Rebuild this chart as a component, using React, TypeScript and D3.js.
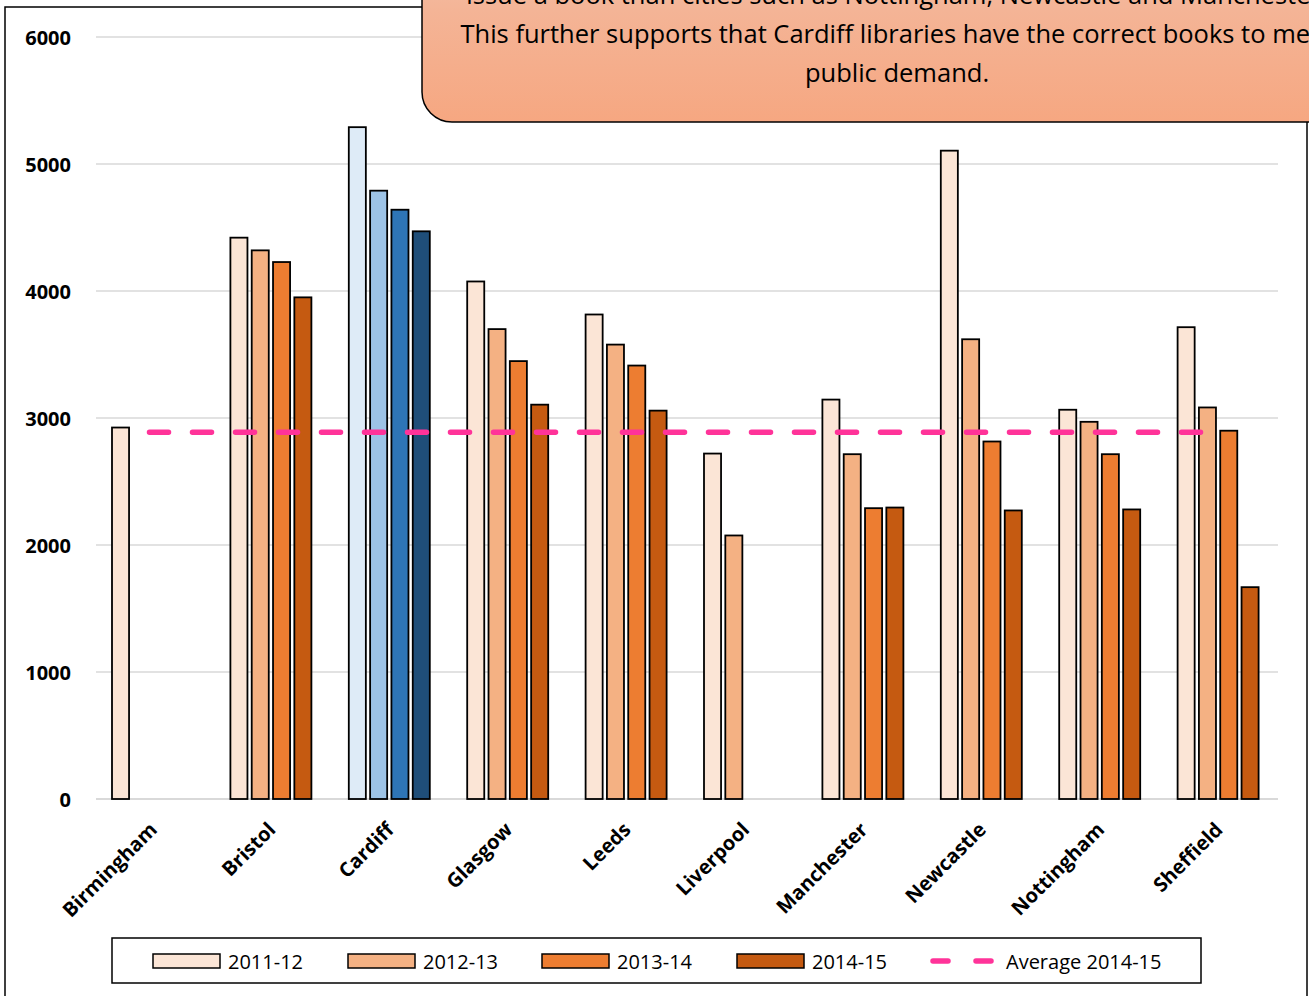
import React from "react";
import * as d3 from "d3";

const categories = ["Birmingham", "Bristol", "Cardiff", "Glasgow", "Leeds", "Liverpool", "Manchester", "Newcastle", "Nottingham", "Sheffield"];
const seriesNames = ["2011-12", "2012-13", "2013-14", "2014-15"];
const values2011: (number | null)[] = [2925, 4420, 5290, 4075, 3815, 2720, 3145, 5105, 3065, 3715];
const values2012: (number | null)[] = [null, 4320, 4790, 3700, 3578, 2075, 2715, 3620, 2970, 3083];
const values2013: (number | null)[] = [null, 4228, 4640, 3448, 3413, null, 2290, 2815, 2715, 2900];
const values2014: (number | null)[] = [null, 3950, 4470, 3105, 3058, null, 2295, 2272, 2280, 1668];
const average2014 = 2888;
const yTicks = [0, 1000, 2000, 3000, 4000, 5000, 6000];
const annotationLines = [
  "issue a book than cities such as Nottingham, Newcastle and Manchester.",
  "This further supports that Cardiff libraries have the correct books to meet",
  "public demand.",
];

const orangeColors = ["#fbe5d6", "#f4b183", "#ed7d31", "#c55a11"];
const blueColors = ["#deebf7", "#9dc3e6", "#2e75b6", "#1f4e79"];
const highlight = "Cardiff";

export default function App() {
  const W = 1309, H = 996;
  const plotLeft = 93.3, plotRight = 1277.3, yTop = 37, yBottom = 799;
  const x = d3.scaleBand<string>().domain(categories).range([plotLeft, plotRight]).padding(0);
  const groupW = 81;
  const xi = d3.scaleBand<string>().domain(seriesNames).range([0, groupW]).paddingInner(0.2);
  const y = d3.scaleLinear().domain([0, 6000]).range([yBottom, yTop]);
  const allSeries = [values2011, values2012, values2013, values2014];
  const off = (x.bandwidth() - groupW) / 2;
  const font = "'Open Sans', 'DejaVu Sans', sans-serif";

  const avgX1 = x(categories[0])! + x.bandwidth() / 2 - 3;
  const avgX2 = x(categories[categories.length - 1])! + x.bandwidth() / 2 + 2;

  const legendX = [153, 348, 542, 737];

  return (
    <svg width={W} height={H} style={{ position: "absolute", left: 0, top: 0 }} fontFamily={font}>
      <defs>
        <linearGradient id="annGrad" x1="0" y1="0" x2="0" y2="1">
          <stop offset="0%" stopColor="#f3c7b2" />
          <stop offset="45%" stopColor="#f4b496" />
          <stop offset="100%" stopColor="#f6a781" />
        </linearGradient>
      </defs>
      <rect x={0} y={0} width={W} height={H} fill="#fff" />
      <rect x={5} y={7} width={1302} height={1010} fill="#fff" stroke="#000" strokeWidth={1.5} />

      {yTicks.map((t) => (
        <g key={t}>
          <line x1={96} x2={1278} y1={y(t)} y2={y(t)} stroke="#d9d9d9" strokeWidth={t === 0 ? 2 : 1.5} />
          <text x={71} y={y(t)} textAnchor="end" dominantBaseline="central" fontSize={20} fontWeight="bold" fill="#000">
            {t}
          </text>
        </g>
      ))}

      {categories.map((c, ci) => (
        <g key={c}>
          {allSeries.map((s, si) => {
            const v = s[ci];
            if (v == null) return null;
            const bx = x(c)! + off + xi(seriesNames[si])!;
            const col = c === highlight ? blueColors[si] : orangeColors[si];
            return (
              <rect key={si} x={bx} y={y(v)} width={xi.bandwidth()} height={yBottom - y(v)} fill={col} stroke="#000" strokeWidth={1.8} />
            );
          })}
        </g>
      ))}

      <line x1={avgX1} x2={avgX2} y1={y(average2014)} y2={y(average2014)} stroke="#ff3399" strokeWidth={5.5} strokeDasharray="19,24" strokeLinecap="round" />

      {categories.map((c) => {
        const cx = x(c)! + x.bandwidth() / 2 + 1;
        return (
          <text key={c} transform={`translate(${cx},${826}) rotate(-45)`} textAnchor="end" dy="0.35em" fontSize={20} fontWeight="bold" fill="#000">
            {c}
          </text>
        );
      })}

      <path
        d={`M422,-80 L1400,-80 L1400,122 L452,122 A30,30 0 0 1 422,92 Z`}
        fill="url(#annGrad)"
        stroke="#000"
        strokeWidth={1.5}
      />
      {annotationLines.map((l, i) => (
        <text key={i} x={897} y={4 + i * 39} textAnchor="middle" fontSize={25.5} fill="#000">
          {l}
        </text>
      ))}

      <rect x={112} y={938} width={1089} height={45} fill="#fff" stroke="#000" strokeWidth={1.5} />
      {seriesNames.map((s, i) => (
        <g key={s}>
          <rect x={legendX[i]} y={954} width={67} height={14} fill={orangeColors[i]} stroke="#000" strokeWidth={1.5} />
          <text x={legendX[i] + 75} y={961} dominantBaseline="central" fontSize={20} fill="#000">
            {s}
          </text>
        </g>
      ))}
      <line x1={933} x2={993} y1={961} y2={961} stroke="#ff3399" strokeWidth={5.5} strokeDasharray="15,28" strokeLinecap="round" />
      <text x={1006} y={961} dominantBaseline="central" fontSize={20} fill="#000">
        Average 2014-15
      </text>
    </svg>
  );
}
